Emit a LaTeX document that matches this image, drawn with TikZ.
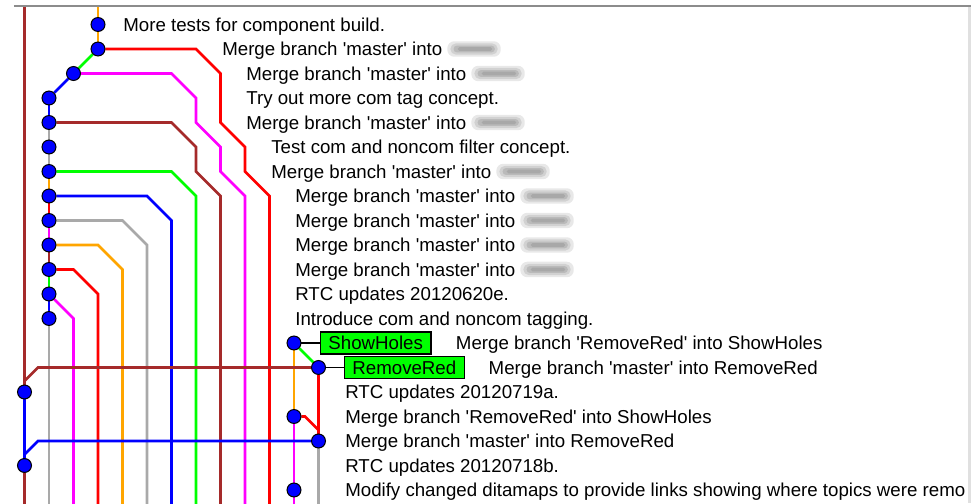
\documentclass[tikz,border=0pt]{standalone}
\usepackage{fontspec}
\setmainfont{Liberation Sans}
\usetikzlibrary{positioning}
\definecolor{gkbrown}{HTML}{A52A2A}
\definecolor{gkgray}{HTML}{A9A9A9}
\definecolor{gkorange}{HTML}{FFA500}
\definecolor{gkgreen}{HTML}{00FF00}
\definecolor{gkred}{HTML}{FF0000}
\definecolor{gkblue}{HTML}{0000FF}
\definecolor{gkmagenta}{HTML}{FF00FF}
\pgfdeclarelayer{front}
\pgfsetlayers{main,front}
\newcommand{\sq}{\textquotesingle}
\tikzset{
  commit/.style={circle, draw=black, line width=0.6pt, fill=gkblue, minimum size=8.1pt, inner sep=0pt},
  msg/.style={anchor=west, inner sep=0pt, text height=7.75pt, text depth=0pt, font=\fontsize{10.85}{12}\selectfont},
  tagbox/.style={rectangle, draw=black, line width=0.9pt, fill=gkgreen, inner sep=0pt, text height=7.75pt, text depth=0pt, minimum height=12.6pt, font=\fontsize{10.85}{12}\selectfont},
  smudge/.style={rectangle, rounded corners=4pt, fill=black!9, minimum width=31pt, minimum height=9pt, inner sep=0pt,
    path picture={
      \fill[black!18, rounded corners=3pt] ([xshift=1.8pt,yshift=1.3pt]path picture bounding box.south west) rectangle ([xshift=-1.8pt,yshift=-1.3pt]path picture bounding box.north east);
      \fill[black!27, rounded corners=2pt] ([xshift=3.6pt,yshift=2.5pt]path picture bounding box.south west) rectangle ([xshift=-3.4pt,yshift=-2.5pt]path picture bounding box.north east);
      \fill[black!34, rounded corners=1pt] ([xshift=6pt,yshift=3.4pt]path picture bounding box.south west) rectangle ([xshift=-5pt,yshift=-3.4pt]path picture bounding box.north east);
    }}
}

\begin{document}
\begin{tikzpicture}[x=0.5cm, y=-0.5cm,
    ln/.style={line width=1.5pt},
    tagln/.style={line width=1.1pt, black}
  ]
  \useasboundingbox (0,0) rectangle (39.633,20.531);
  \draw[line width=1.2pt, black!45] (0.57,0.245) -- (39.633,0.245);
  \fill[black!12] (39.51,0.3) rectangle (39.633,20.531);

  \begin{scope}
    \clip (0,0.3) rectangle (39.51,20.531);
    \coordinate (top0) at (1,0.3);
    \coordinate (top3) at (4,0.3);
    \coordinate (bot0) at (1,20.6);
    \coordinate (bot1) at (2,20.6);
    \coordinate (bot2) at (3,20.6);
    \coordinate (bot3) at (4,20.6);
    \coordinate (bot4) at (5,20.6);
    \coordinate (bot5) at (6,20.6);
    \coordinate (bot6) at (7,20.6);
    \coordinate (bot7) at (8,20.6);
    \coordinate (bot8) at (9,20.6);
    \coordinate (bot9) at (10,20.6);
    \coordinate (bot10) at (11,20.6);
    \coordinate (bot11) at (12,20.6);
    \coordinate (bot12) at (13,20.6);

    \begin{pgfonlayer}{front}
      \node[commit] (c0) at (4,1) {};
      \node[commit] (c1) at (4,2) {};
      \node[commit] (c2) at (3,3) {};
      \node[commit] (c3) at (2,4) {};
      \node[commit] (c4) at (2,5) {};
      \node[commit] (c5) at (2,6) {};
      \node[commit] (c6) at (2,7) {};
      \node[commit] (c7) at (2,8) {};
      \node[commit] (c8) at (2,9) {};
      \node[commit] (c9) at (2,10) {};
      \node[commit] (c10) at (2,11) {};
      \node[commit] (c11) at (2,12) {};
      \node[commit] (c12) at (2,13) {};
      \node[commit] (c13) at (12,14) {};
      \node[commit] (c14) at (13,15) {};
      \node[commit] (c15) at (1,16) {};
      \node[commit] (c16) at (12,17) {};
      \node[commit] (c17) at (13,18) {};
      \node[commit] (c18) at (1,19) {};
      \node[commit] (c19) at (12,20) {};
    \end{pgfonlayer}

    \node[msg] (m0) at (5.02,1) {More tests for component build.};
    \node[msg] (m1) at (9.06,2) {Merge branch \sq master\sq\ into};
    \node[msg] (m2) at (10.04,3) {Merge branch \sq master\sq\ into};
    \node[msg] (m3) at (10.04,4) {Try out more com tag concept.};
    \node[msg] (m4) at (10.04,5) {Merge branch \sq master\sq\ into};
    \node[msg] (m5) at (11.06,6) {Test com and noncom filter concept.};
    \node[msg] (m6) at (11.06,7) {Merge branch \sq master\sq\ into};
    \node[msg] (m7) at (12.04,8) {Merge branch \sq master\sq\ into};
    \node[msg] (m8) at (12.04,9) {Merge branch \sq master\sq\ into};
    \node[msg] (m9) at (12.04,10) {Merge branch \sq master\sq\ into};
    \node[msg] (m10) at (12.04,11) {Merge branch \sq master\sq\ into};
    \node[msg] (m11) at (12.04,12) {RTC updates 20120620e.};
    \node[msg] (m12) at (12.04,13) {Introduce com and noncom tagging.};
    \node[tagbox, minimum width=63.9pt, right=10.7pt of c13] (tShow) {ShowHoles};
    \node[tagbox, minimum width=69.7pt, right=10.2pt of c14] (tRemove) {RemoveRed};
    \node[msg, right=14pt of tShow] (m13) {Merge branch \sq RemoveRed\sq\ into ShowHoles};
    \node[msg, right=13.5pt of tRemove] (m14) {Merge branch \sq master\sq\ into RemoveRed};
    \node[msg] (m15) at (14.08,16) {RTC updates 20120719a.};
    \node[msg] (m16) at (14.08,17) {Merge branch \sq RemoveRed\sq\ into ShowHoles};
    \node[msg] (m17) at (14.08,18) {Merge branch \sq master\sq\ into RemoveRed};
    \node[msg] (m18) at (14.08,19) {RTC updates 20120718b.};
    \node[msg] (m19) at (14.08,20) {Modify changed ditamaps to provide links showing where topics were remo};

    \node[smudge, right=2.5pt of m1] (s1) {};
    \node[smudge, right=2.5pt of m2] (s2) {};
    \node[smudge, right=2.5pt of m4] (s4) {};
    \node[smudge, right=2.5pt of m6] (s6) {};
    \node[smudge, right=2.5pt of m7] (s7) {};
    \node[smudge, right=2.5pt of m8] (s8) {};
    \node[smudge, right=2.5pt of m9] (s9) {};
    \node[smudge, right=2.5pt of m10] (s10) {};

    \draw[ln, gkorange] (top3) -- (c0);
    \draw[ln, gkorange] (c0) -- (c1);
    \draw[ln, gkgreen] (c1) -- (c2);
    \draw[ln, gkblue] (c2) -- (c3);
    \draw[ln, gkbrown] (top0) -- (c15);

    \draw[ln, gkblue] (c3) -- (c4);
    \draw[ln, gkgray] (c4) -- (c5);
    \draw[ln, gkgray] (c5) -- (c6);
    \draw[ln, gkorange] (c6) -- (c7);
    \draw[ln, gkred] (c7) -- (c8);
    \draw[ln, gkmagenta] (c8) -- (c9);
    \draw[ln, gkbrown] (c9) -- (c10);
    \draw[ln, gkgreen] (c10) -- (c11);
    \draw[ln, gkblue] (c11) -- (c12);

    \draw[ln, gkred] (c1) -- (8,2) -- (9,3) -- (9,5) -- (10,6) -- (10,7) -- (11,8) -- (bot10);
    \draw[ln, gkmagenta] (c2) -- (7,3) -- (8,4) -- (8,5) -- (9,6) -- (9,7) -- (10,8) -- (bot9);
    \draw[ln, gkbrown] (c4) -- (7,5) -- (8,6) -- (8,7) -- (9,8) -- (bot8);
    \draw[ln, gkgreen] (c6) -- (7,7) -- (8,8) -- (bot7);
    \draw[ln, gkblue] (c7) -- (6,8) -- (7,9) -- (bot6);
    \draw[ln, gkgray] (c8) -- (5,9) -- (6,10) -- (bot5);
    \draw[ln, gkorange] (c9) -- (4,10) -- (5,11) -- (bot4);
    \draw[ln, gkred] (c10) -- (3,11) -- (4,12) -- (bot3);
    \draw[ln, gkmagenta] (c11) -- (3,13) -- (bot2);
    \draw[ln, gkgray] (c12) -- (bot1);

    \draw[tagln] (c13) -- (tShow);
    \draw[tagln] (c14) -- (tRemove);
    \draw[ln, gkgreen] (c13) -- (c14);
    \draw[ln, gkorange] (c13) -- (c16);
    \draw[ln, gkred] (c14) -- (c17);
    \draw[ln, gkred] (c16) -- (12.45,17) -- (13,17.55) -- (c17);
    \draw[ln, gkmagenta] (c16) -- (c19);
    \draw[ln, gkmagenta] (c19) -- (bot11);
    \draw[ln, gkgray] (c17) -- (bot12);
    \draw[ln, gkblue] (c15) -- (c18);
    \draw[ln, gkbrown] (c18) -- (bot0);
    \draw[ln, gkbrown] (c14) -- (1.55,15) -- (1,15.55) -- (c15);
    \draw[ln, gkblue] (c17) -- (1.55,18) -- (1,18.55) -- (c18);
  \end{scope}
\end{tikzpicture}
\end{document}
